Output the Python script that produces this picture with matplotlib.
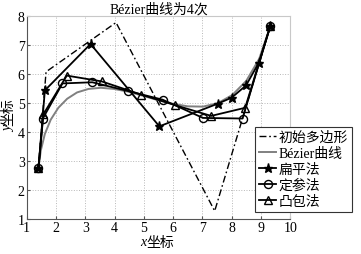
import matplotlib
matplotlib.use("Agg")
import matplotlib.pyplot as plt

plt.rcParams['font.family'] = ['Liberation Serif', 'Noto Sans CJK SC', 'DejaVu Sans']

# control polygon (initial polygon)
poly_x = [1.40, 1.66, 4.05, 7.42, 9.32]
poly_y = [2.73, 6.06, 7.76, 1.26, 7.64]

# Bezier curve samples
bez_x = [1.40, 1.48, 1.62, 1.82, 2.08, 2.38, 2.72, 3.11, 3.53, 3.98, 4.45, 4.95,
         5.46, 5.98, 6.50, 7.02, 7.53, 8.02, 8.50, 8.94, 9.32]
bez_y = [2.73, 3.34, 3.92, 4.41, 4.82, 5.13, 5.35, 5.47, 5.51, 5.47, 5.38, 5.24,
         5.09, 4.96, 4.87, 4.86, 4.98, 5.26, 5.75, 6.51, 7.64]

# flattening method
flat_x = [1.40, 1.62, 3.18, 5.53, 7.52, 8.00, 8.49, 8.93, 9.32]
flat_y = [2.73, 5.42, 7.02, 4.18, 4.96, 5.17, 5.59, 6.38, 7.64]

# fixed-parameter method
fix_x = [1.40, 1.55, 2.22, 3.24, 4.45, 5.64, 7.02, 8.37, 9.32]
fix_y = [2.73, 4.45, 5.66, 5.70, 5.40, 5.10, 4.47, 4.45, 7.64]

# convex hull method
hull_x = [1.40, 1.57, 2.37, 3.56, 4.92, 6.07, 7.30, 8.46, 9.32]
hull_y = [2.73, 4.60, 5.93, 5.73, 5.27, 4.91, 4.54, 4.82, 7.64]

labels = ['初始多边形', 'Bézier曲线', '扁平法', '定参法', '凸包法']
title = 'Bézier曲线为4次'
xlab_var, ylab_var, lab_word = 'x', 'y', '坐标'

W, H = 361, 255
fig = plt.figure(figsize=(W / 100, H / 100), dpi=100)
ax = fig.add_axes([0.074, 0.139, 0.730, 0.796])

ax.plot(poly_x, poly_y, color='black', lw=1.0, ls=(0, (5, 2, 1.2, 2)), label=labels[0])
ax.plot(bez_x, bez_y, color='#808080', lw=1.4, label=labels[1])
ax.plot(flat_x, flat_y, color='black', lw=1.3, marker='*', ms=6.5, mfc='black', mec='black',
        label=labels[2])
ax.plot(fix_x, fix_y, color='black', lw=1.3, marker='o', ms=5.8, mfc='none', mec='black',
        mew=1.0, label=labels[3])
ax.plot(hull_x, hull_y, color='black', lw=1.3, marker='^', ms=5.8, mfc='none', mec='black',
        mew=1.0, label=labels[4])

ax.set_xlim(1, 10)
ax.set_ylim(1, 8)
ax.set_xticks(range(1, 11))
ax.set_yticks(range(1, 9))
ax.grid(True, color='#b8b8b8', ls=':', lw=0.7)
ax.tick_params(labelsize=10, direction='in', length=2, color='#555555', pad=1.5)
for s in ['top', 'right']:
    ax.spines[s].set_color('#c8c8c8')
for s in ['left', 'bottom']:
    ax.spines[s].set_color('#555555')
    ax.spines[s].set_linewidth(0.8)

ax.set_title(title, fontsize=10, pad=2)

# x label: italic variable + word
fig.text(146 / W, 1 - 243 / H, xlab_var, fontsize=10, style='italic', ha='right', va='center')
fig.text(146 / W, 1 - 243 / H, lab_word, fontsize=10, ha='left', va='center')
# y label (rotated)
fig.text(8.5 / W, 1 - 126 / H, ylab_var, fontsize=10, style='italic', rotation=90,
         ha='center', va='top')
fig.text(8.5 / W, 1 - 126 / H, lab_word, fontsize=10, rotation=90, ha='center', va='bottom')

leg = ax.legend(loc='upper left', bbox_to_anchor=(0.866, 0.452), fontsize=10,
                handlelength=1.25, handletextpad=0.15, borderpad=0.3, labelspacing=0.2,
                borderaxespad=0, frameon=True, fancybox=False, framealpha=1)
leg.get_frame().set_edgecolor('#333333')
leg.get_frame().set_linewidth(0.8)
leg.set_zorder(10)

fig.savefig('out.png', dpi=100)
